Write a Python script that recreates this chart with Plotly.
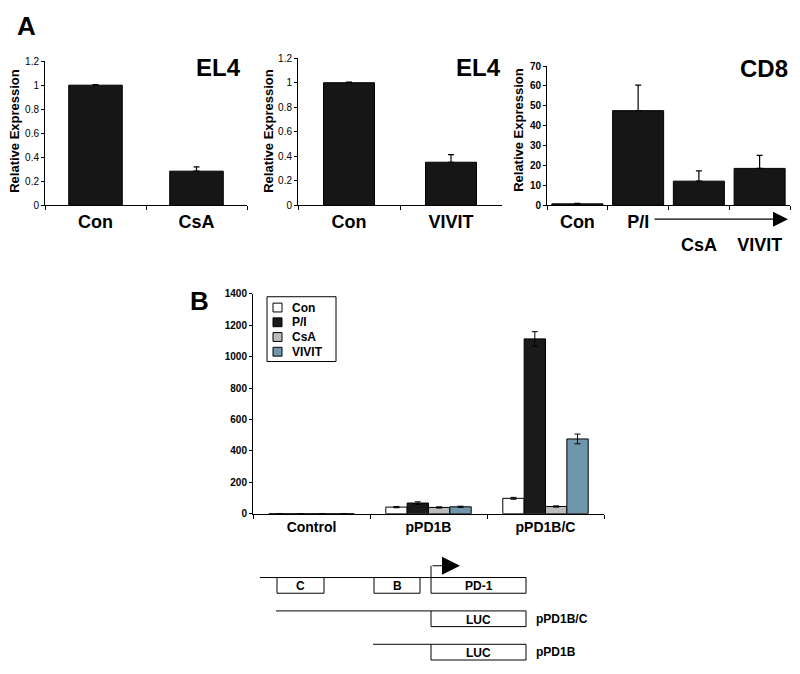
import plotly.graph_objects as go

# ---------------- data ----------------
a1_cats = ["Con", "CsA"]
a1_vals = [1.0, 0.285]
a1_err = [0.005, 0.035]

a2_cats = ["Con", "VIVIT"]
a2_vals = [1.0, 0.352]
a2_err = [0.005, 0.062]

a3_cats = ["Con", "P/I", "CsA", "VIVIT"]
a3_ticktext = ["Con", "P/I", "<br>CsA", "<br>VIVIT"]
a3_vals = [0.8, 47.6, 12.2, 18.6]
a3_err = [0.3, 12.8, 5.2, 6.5]

b_cats = ["Control", "pPD1B", "pPD1B/C"]
b_series = ["Con", "P/I", "CsA", "VIVIT"]
b_con = [0, 42, 98]
b_pi = [0, 68, 1113]
b_csa = [0, 40, 46]
b_vivit = [0, 44, 476]
b_con_err = [0, 4, 6]
b_pi_err = [0, 8, 46]
b_csa_err = [0, 4, 4]
b_vivit_err = [0, 4, 31]
b_colors = ["#ffffff", "#1a1a1a", "#bdbdbd", "#6f97ab"]

FONT = "Liberation Sans, Arial, sans-serif"
NARROW = "Liberation Sans Narrow, Liberation Sans, Arial"
OFF = 8  # page body margin
W, H = 800 - 2 * OFF, 674 - 2 * OFF  # figure fits inside the viewport without scrolling


def px(x):
    return (x - OFF) / W


def py(y):
    return 1 - (y - OFF) / H


fig = go.Figure()

# ---- Panel A bars ----
dark = dict(color="#161616", line=dict(color="black", width=1))
fig.add_trace(go.Bar(x=a1_cats, y=a1_vals, width=0.53, marker=dark,
                     error_y=dict(type="data", array=a1_err, arrayminus=[0] * len(a1_err), color="black",
                                  thickness=1.2, width=3),
                     xaxis="x", yaxis="y", showlegend=False))
fig.add_trace(go.Bar(x=a2_cats, y=a2_vals, width=0.5, marker=dark,
                     error_y=dict(type="data", array=a2_err, arrayminus=[0] * len(a2_err), color="black",
                                  thickness=1.2, width=3),
                     xaxis="x2", yaxis="y2", showlegend=False))
fig.add_trace(go.Bar(x=a3_cats, y=a3_vals, width=0.84, marker=dark,
                     error_y=dict(type="data", array=a3_err, arrayminus=[0] * len(a3_err), color="black",
                                  thickness=1.2, width=3),
                     xaxis="x3", yaxis="y3", showlegend=False))

# ---- Panel B grouped bars ----
b_vals = [b_con, b_pi, b_csa, b_vivit]
b_errs = [b_con_err, b_pi_err, b_csa_err, b_vivit_err]
for name, vals, errs, col in zip(b_series, b_vals, b_errs, b_colors):
    fig.add_trace(go.Bar(x=b_cats, y=vals, name=name, showlegend=False,
                         marker=dict(color=col, line=dict(color="black", width=1)),
                         error_y=dict(type="data", array=errs, color="black", thickness=1, width=3),
                         xaxis="x4", yaxis="y4"))

axis_common = dict(showline=True, linecolor="black", linewidth=1, showgrid=False, zeroline=False,
                   ticks="outside", tickcolor="black", ticklen=3)

xcat_common = dict(axis_common, type="category", tickson="boundaries", ticklen=4)

fig.update_layout(
    width=W, height=H,
    margin=dict(l=0, r=0, t=0, b=0),
    paper_bgcolor="white", plot_bgcolor="white",
    barmode="group", bargap=0.27, bargroupgap=0,
    font=dict(family=FONT, color="black"),
    showlegend=False,
    xaxis=dict(xcat_common, domain=[px(45), px(247)], anchor="y",
               tickfont=dict(family=FONT, size=18, weight="bold")),
    yaxis=dict(axis_common, domain=[py(203), py(56)], anchor="x", range=[0, 1.2], dtick=0.2,
               tickfont=dict(family=NARROW, size=10)),
    xaxis2=dict(xcat_common, domain=[px(298), px(502)], anchor="y2",
                tickfont=dict(family=FONT, size=18, weight="bold")),
    yaxis2=dict(axis_common, domain=[py(203), py(53)], anchor="x2", range=[0, 1.2], dtick=0.2,
                tickfont=dict(family=NARROW, size=10)),
    xaxis3=dict(xcat_common, domain=[px(547), px(790)], anchor="y3",
                tickvals=a3_cats, ticktext=a3_ticktext,
                tickfont=dict(family=FONT, size=18, weight="bold")),
    yaxis3=dict(axis_common, domain=[py(203), py(61)], anchor="x3", range=[0, 70], dtick=10,
                tickfont=dict(family=FONT, size=10, weight="bold")),
    xaxis4=dict(xcat_common, domain=[px(253), px(604)], anchor="y4",
                tickfont=dict(family=FONT, size=14, weight="bold")),
    yaxis4=dict(axis_common, domain=[py(517), py(293)], anchor="x4", range=[0, 1400], dtick=200,
                tickfont=dict(family=FONT, size=10, weight="bold")),
)

ann = []
shapes = []


def text(x, y, s, size, angle=0, bold=True, xanchor="center"):
    ann.append(dict(x=px(x), y=py(y), xref="paper", yref="paper", text=s, showarrow=False,
                    textangle=angle, xanchor=xanchor, yanchor="middle",
                    font=dict(family=FONT, size=size, color="black", weight="bold" if bold else "normal")))


def line(x0, y0, x1, y1):
    shapes.append(dict(type="line", xref="paper", yref="paper", x0=px(x0), y0=py(y0), x1=px(x1), y1=py(y1),
                       line=dict(color="black", width=1)))


def rect(x0, y0, x1, y1, fill="white", width=1):
    shapes.append(dict(type="rect", xref="paper", yref="paper", x0=px(x0), y0=py(y0), x1=px(x1), y1=py(y1),
                       line=dict(color="black", width=width), fillcolor=fill))


def box(x0, y0, x1, y1, label):
    rect(x0, y0, x1, y1)
    text((x0 + x1) / 2, (y0 + y1) / 2 + 1, label, 12)


text(26, 20, "A", 26)
text(199, 300, "B", 26)
text(218, 63, "EL4", 24)
text(478, 63, "EL4", 24)
text(764, 64, "CD8", 24)
text(15, 127, "Relative Expression", 13, angle=-90)
text(269, 127, "Relative Expression", 13, angle=-90)
text(519, 126, "Relative Expression", 13, angle=-90)

# Arrow P/I -> treatments
ann.append(dict(x=px(788), y=py(217), xref="paper", yref="paper", ax=-135, ay=0, text="",
                showarrow=True, arrowhead=2, arrowsize=2.5, arrowwidth=1.2, arrowcolor="black"))

# ---- Panel B legend ----
rect(267, 296, 336, 362)
leg_y = [307, 322, 337, 352]
for name, col, yy in zip(b_series, b_colors, leg_y):
    rect(273, yy - 4.5, 282, yy + 4.5, fill=col)
    text(290, yy, name, 12, xanchor="left")

# ---- promoter diagram ----
line(260, 582, 526, 582)
box(277, 582, 324, 598, "C")
box(374, 582, 420, 598, "B")
box(431, 582, 526, 598, "PD-1")
line(431, 582, 431, 570)
ann.append(dict(x=px(460), y=py(570), xref="paper", yref="paper", ax=-29, ay=0, text="",
                showarrow=True, arrowhead=2, arrowsize=3, arrowwidth=1.2, arrowcolor="black"))

line(276, 616, 431, 616)
box(431, 616, 526, 632, "LUC")
text(534, 624, "pPD1B/C", 12, xanchor="left")

line(373, 650, 431, 650)
box(431, 650, 526, 666, "LUC")
text(534, 658, "pPD1B", 12, xanchor="left")

fig.update_layout(annotations=ann, shapes=shapes)

fig.write_html("out.html")
